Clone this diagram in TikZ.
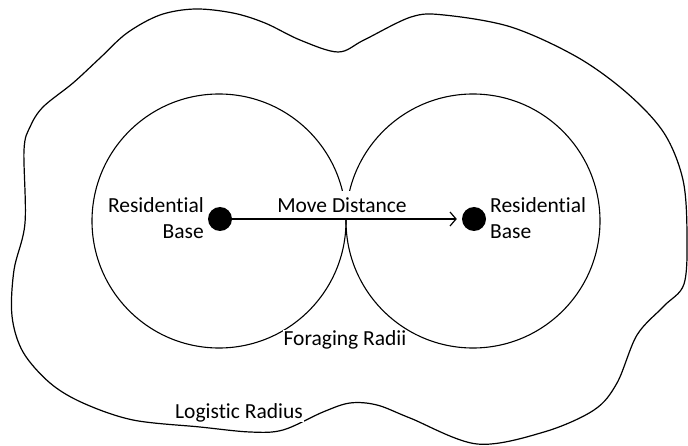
\documentclass[tikz,border=0pt]{standalone}
\usepackage{fontspec}
\setmainfont{Carlito}[Ligatures={NoCommon}]
\usetikzlibrary{arrows.meta,positioning,calc}

\begin{document}
\begin{tikzpicture}[x=1pt, y=-1pt,
  forage/.style={circle, draw=black, line width=1.1pt, minimum size=254pt, inner sep=0pt},
  basedot/.style={circle, fill=black, minimum size=24pt, inner sep=0pt},
  lbl/.style={font=\fontsize{21.5}{26}\selectfont, inner sep=0pt},
  cover/.style={lbl, fill=white, inner xsep=1pt}
]
  \useasboundingbox (0,0) rectangle (688,446);

  \draw[line width=1.2pt] plot[smooth cycle, tension=0.55] coordinates {
    (160,15) (195,9) (233,13) (265,23) (300,40) (338,52) (364,40) (411,17)
    (444,15) (511,27) (577,57) (627,93) (664,133) (683,180) (687,235) (684,284)
    (664,306) (637,335) (617,383) (594,410) (544,432) (477,444) (410,418)
    (377,405) (350,403) (323,412) (283,430) (250,432) (200,427) (133,420)
    (83,403) (50,383) (23,352) (12,316) (14,270) (25,223) (24,150) (30,127)
    (43,107) (73,83) (100,58) (127,33)};

  \node[forage] (lradius) at (219,221) {};
  \node[forage] (rradius) at (473,221) {};

  \node[basedot] (ldot) at (220,219) {};
  \node[basedot] (rdot) at (474,219) {};

  \node[lbl, align=right, anchor=east] (lbase) at (204,218) {Residential\\Base};
  \node[lbl, align=left, anchor=west] (rbase) at (490,218) {Residential\\Base};
  \node[cover, anchor=base, text height=22pt, text depth=5pt] (move) at (342,213) {Move Distance};
  \node[cover, anchor=base, text depth=2pt] (foraging) at (345,345) {Foraging Radii};
  \node[cover, anchor=base] (logistic) at (239,418) {Logistic Radius};

  \draw[-{Straight Barb[length=6pt, width=14pt]}, line width=1.2pt, shorten >=5pt]
    (ldot.east) -- (rdot.west);
\end{tikzpicture}
\end{document}
